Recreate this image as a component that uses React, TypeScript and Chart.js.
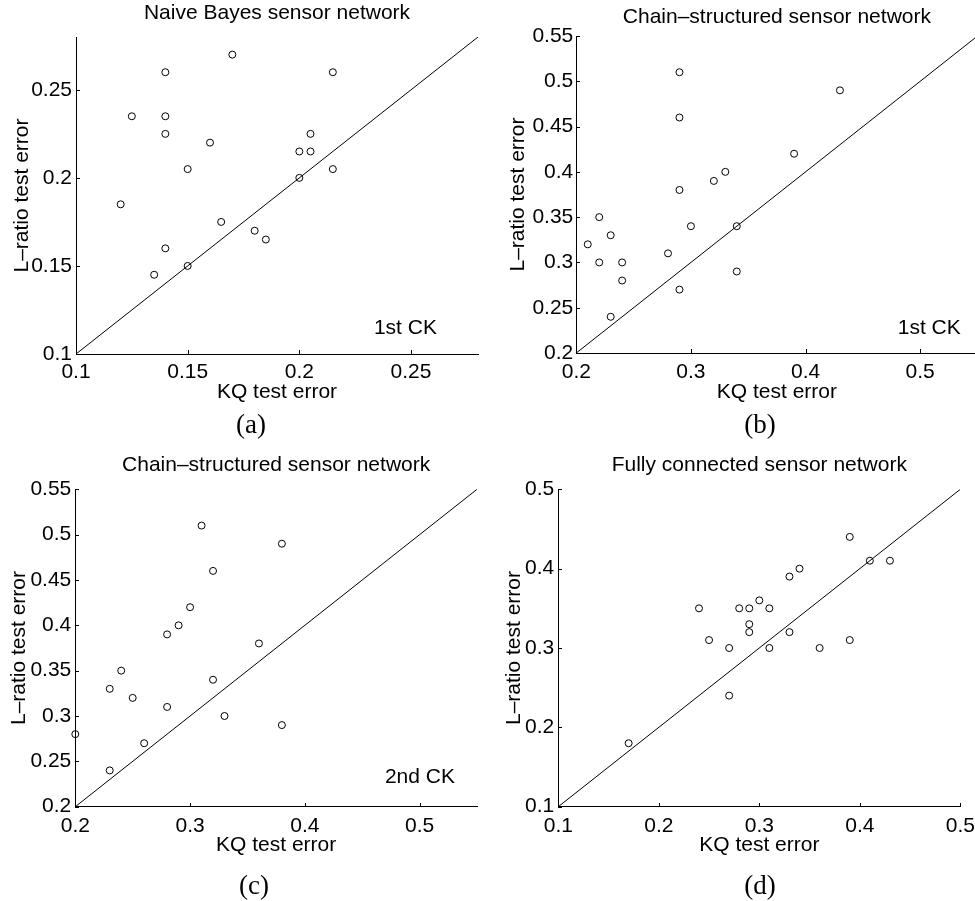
import React, { useEffect, useRef } from "react";
import { Chart, registerables } from "chart.js";

Chart.register(...registerables);

// ---------- Data ----------
// (a) Naive Bayes sensor network, 1st CK
const aKQ = [0.17, 0.14, 0.215, 0.125, 0.14, 0.14, 0.205, 0.16, 0.2, 0.205, 0.15, 0.215, 0.2, 0.12, 0.165, 0.18, 0.185, 0.14, 0.15, 0.135];
const aLR = [0.27, 0.26, 0.26, 0.235, 0.235, 0.225, 0.225, 0.22, 0.215, 0.215, 0.205, 0.205, 0.2, 0.185, 0.175, 0.17, 0.165, 0.16, 0.15, 0.145];
const aRange = [0.1, 0.28];
const aXTicks = [0.1, 0.15, 0.2, 0.25];
const aYTicks = [0.1, 0.15, 0.2, 0.25];

// (b) Chain-structured sensor network, 1st CK
const bKQ = [0.29, 0.43, 0.29, 0.39, 0.33, 0.32, 0.29, 0.22, 0.3, 0.34, 0.23, 0.21, 0.28, 0.22, 0.24, 0.34, 0.24, 0.29, 0.23];
const bLR = [0.51, 0.49, 0.46, 0.42, 0.4, 0.39, 0.38, 0.35, 0.34, 0.34, 0.33, 0.32, 0.31, 0.3, 0.3, 0.29, 0.28, 0.27, 0.24];
const bRange = [0.2, 0.55];
const bXTicks = [0.2, 0.3, 0.4, 0.5];
const bYTicks = [0.2, 0.25, 0.3, 0.35, 0.4, 0.45, 0.5, 0.55];

// (c) Chain-structured sensor network, 2nd CK
const cKQ = [0.31, 0.38, 0.32, 0.3, 0.29, 0.28, 0.36, 0.24, 0.32, 0.23, 0.25, 0.28, 0.33, 0.38, 0.2, 0.26, 0.23];
const cLR = [0.51, 0.49, 0.46, 0.42, 0.4, 0.39, 0.38, 0.35, 0.34, 0.33, 0.32, 0.31, 0.3, 0.29, 0.28, 0.27, 0.24];
const cRange = [0.2, 0.55];
const cXTicks = [0.2, 0.3, 0.4, 0.5];
const cYTicks = [0.2, 0.25, 0.3, 0.35, 0.4, 0.45, 0.5, 0.55];

// (d) Fully connected sensor network
const dKQ = [0.39, 0.41, 0.43, 0.34, 0.33, 0.3, 0.24, 0.28, 0.29, 0.31, 0.29, 0.29, 0.33, 0.25, 0.39, 0.27, 0.31, 0.36, 0.27, 0.17];
const dLR = [0.44, 0.41, 0.41, 0.4, 0.39, 0.36, 0.35, 0.35, 0.35, 0.35, 0.33, 0.32, 0.32, 0.31, 0.31, 0.3, 0.3, 0.3, 0.24, 0.18];
const dRange = [0.1, 0.5];
const dXTicks = [0.1, 0.2, 0.3, 0.4, 0.5];
const dYTicks = [0.1, 0.2, 0.3, 0.4, 0.5];

const titles = [
  "Naive Bayes sensor network",
  "Chain\u2013structured sensor network",
  "Chain\u2013structured sensor network",
  "Fully connected sensor network",
];
const xTitle = "KQ test error";
const yTitle = "L\u2013ratio test error";
const captions = ["(a)", "(b)", "(c)", "(d)"];
const notes = ["1st CK", "1st CK", "2nd CK", ""];
// note anchor (right edge, baseline) in data units
const noteX = [0.2616, 0.5354, 0.5308, 0];
const noteY = [0.1112, 0.221, 0.2265, 0];

// ---------- Layout (pixels) ----------
type Layout = {
  left: number; top: number; w: number; h: number;
  L: number; T: number; R: number; B: number;
  titleY: number; xTitleY: number; yTitleX: number;
  xTickPad: number; yTickPad: number; capX: number; capY: number;
};

const layouts: Layout[] = [
  { left: 0, top: 0, w: 487, h: 440, L: 76, T: 37, R: 478, B: 354, titleY: 13, xTitleY: 392, yTitleX: 22.5, xTickPad: 8, yTickPad: 4, capX: 251, capY: 425.5 },
  { left: 487, top: 0, w: 500, h: 440, L: 89.3, T: 36, R: 490.5, B: 353, titleY: 17.5, xTitleY: 392, yTitleX: 31, xTickPad: 9, yTickPad: 3, capX: 273, capY: 425.5 },
  { left: 0, top: 440, w: 487, h: 461, L: 75.3, T: 49.3, R: 477, B: 366.7, titleY: 25.5, xTitleY: 405, yTitleX: 19, xTickPad: 9, yTickPad: 4, capX: 254, capY: 446.5 },
  { left: 487, top: 440, w: 488, h: 461, L: 71.3, T: 49.3, R: 473.3, B: 366.7, titleY: 25, xTitleY: 405, yTitleX: 27.5, xTickPad: 9, yTickPad: 4, capX: 273, capY: 446.5 },
];

const SANS = '"Liberation Sans", Arial, Helvetica, sans-serif';
const SERIF = '"Liberation Serif", "Times New Roman", Times, serif';
const FS = 21;

const fmt = (v: number) => String(parseFloat(Number(v).toFixed(4)));

const decorPlugin = {
  id: "decor",
  afterDraw(chart: any, _args: any, opts: any) {
    const ctx = chart.ctx;
    const xs = chart.scales.x;
    const ys = chart.scales.y;
    const area = chart.chartArea;
    ctx.save();
    // inward tick marks
    ctx.strokeStyle = "#000";
    ctx.lineWidth = 1;
    ctx.beginPath();
    xs.ticks.forEach((t: any) => {
      const px = Math.round(xs.getPixelForValue(t.value)) + 0.5;
      const by = Math.round(area.bottom);
      ctx.moveTo(px, by);
      ctx.lineTo(px, by - 4);
    });
    ys.ticks.forEach((t: any) => {
      const py = Math.round(ys.getPixelForValue(t.value)) + 0.5;
      const lx = Math.round(area.left);
      ctx.moveTo(lx, py);
      ctx.lineTo(lx + 4, py);
    });
    ctx.stroke();
    ctx.fillStyle = "#000";
    if (opts.note) {
      ctx.font = `${FS}px ${SANS}`;
      ctx.textAlign = "right";
      ctx.textBaseline = "alphabetic";
      ctx.fillText(opts.note, xs.getPixelForValue(opts.noteX), ys.getPixelForValue(opts.noteY));
    }
    if (opts.caption) {
      ctx.font = `27px ${SERIF}`;
      ctx.textAlign = "center";
      ctx.textBaseline = "middle";
      ctx.fillText(opts.caption, opts.capX, opts.capY);
    }
    ctx.restore();
  },
};

type PanelProps = {
  idx: number;
  kq: number[];
  lr: number[];
  range: number[];
  xTicks: number[];
  yTicks: number[];
};

function Panel({ idx, kq, lr, range, xTicks, yTicks }: PanelProps) {
  const ref = useRef<HTMLCanvasElement | null>(null);
  const lay = layouts[idx];

  useEffect(() => {
    if (!ref.current) return;
    const font = { family: SANS, size: FS, lineHeight: 1 };
    const zeroPad = (s: any) => {
      s.paddingLeft = 0;
      s.paddingRight = 0;
      s.paddingTop = 0;
      s.paddingBottom = 0;
    };
    const points = kq.map((x, i) => ({ x, y: lr[i] }));
    const diag = [
      { x: range[0], y: range[0] },
      { x: range[1], y: range[1] },
    ];
    const chart = new Chart(ref.current, {
      type: "scatter",
      data: {
        datasets: [
          {
            data: diag,
            showLine: true,
            borderColor: "#000",
            borderWidth: 1,
            pointRadius: 0,
            xAxisID: "x",
            yAxisID: "y",
          } as any,
          {
            data: points,
            showLine: false,
            pointStyle: "circle",
            pointRadius: 3.5,
            pointBorderWidth: 1,
            borderColor: "#000",
            pointBorderColor: "#000",
            backgroundColor: "rgba(0,0,0,0)",
            pointBackgroundColor: "rgba(0,0,0,0)",
            clip: false,
            xAxisID: "x",
            yAxisID: "y",
          } as any,
        ],
      },
      options: {
        responsive: false,
        animation: false,
        events: [],
        layout: { padding: { left: 0, top: 0, right: lay.w - lay.R, bottom: 0 } },
        plugins: {
          legend: { display: false },
          tooltip: { enabled: false },
          decor: {
            note: notes[idx],
            noteX: noteX[idx],
            noteY: noteY[idx],
            caption: captions[idx],
            capX: lay.capX,
            capY: lay.capY,
          },
        } as any,
        scales: {
          x: {
            type: "linear",
            position: "bottom",
            min: range[0],
            max: range[1],
            afterBuildTicks: (s: any) => {
              s.ticks = xTicks.map((v) => ({ value: v }));
            },
            afterFit: (s: any) => {
              s.height = lay.h - lay.B;
              zeroPad(s);
            },
            ticks: {
              padding: lay.xTickPad,
              font,
              color: "#000",
              maxRotation: 0,
              autoSkip: false,
              callback: (v: any) => fmt(v),
            },
            grid: { display: true, drawOnChartArea: false, drawTicks: false },
            border: { display: true, color: "#000", width: 1 },
            title: {
              display: true,
              text: xTitle,
              font,
              color: "#000",
              padding: { top: 0, bottom: lay.h - lay.xTitleY - FS / 2 },
            },
          },
          y: {
            type: "linear",
            position: "left",
            min: range[0],
            max: range[1],
            afterBuildTicks: (s: any) => {
              s.ticks = yTicks.map((v) => ({ value: v }));
            },
            afterFit: (s: any) => {
              s.width = lay.L;
              zeroPad(s);
            },
            ticks: {
              padding: lay.yTickPad,
              font,
              color: "#000",
              autoSkip: false,
              callback: (v: any) => fmt(v),
            },
            grid: { display: true, drawOnChartArea: false, drawTicks: false },
            border: { display: true, color: "#000", width: 1 },
            title: {
              display: true,
              text: yTitle,
              font,
              color: "#000",
              padding: { top: lay.yTitleX - FS / 2, bottom: 0 },
            },
          },
          xt: {
            type: "linear",
            position: "top",
            min: 0,
            max: 1,
            afterFit: (s: any) => {
              s.height = lay.T;
              zeroPad(s);
            },
            ticks: { display: false },
            grid: { display: false, drawTicks: false },
            border: { display: false },
            title: {
              display: true,
              text: titles[idx],
              font,
              color: "#000",
              padding: { top: lay.titleY - FS / 2, bottom: 0 },
            },
          },
        } as any,
      },
      plugins: [decorPlugin as any],
    });
    return () => chart.destroy();
  }, []);

  return (
    <canvas
      ref={ref}
      width={lay.w}
      height={lay.h}
      style={{ position: "absolute", left: lay.left, top: lay.top, width: lay.w, height: lay.h }}
    />
  );
}

export default function App() {
  return (
    <div
      style={{
        position: "absolute",
        left: 0,
        top: 0,
        width: 975,
        height: 901,
        overflow: "hidden",
        background: "#fff",
      }}
    >
      <Panel idx={0} kq={aKQ} lr={aLR} range={aRange} xTicks={aXTicks} yTicks={aYTicks} />
      <Panel idx={1} kq={bKQ} lr={bLR} range={bRange} xTicks={bXTicks} yTicks={bYTicks} />
      <Panel idx={2} kq={cKQ} lr={cLR} range={cRange} xTicks={cXTicks} yTicks={cYTicks} />
      <Panel idx={3} kq={dKQ} lr={dLR} range={dRange} xTicks={dXTicks} yTicks={dYTicks} />
    </div>
  );
}
